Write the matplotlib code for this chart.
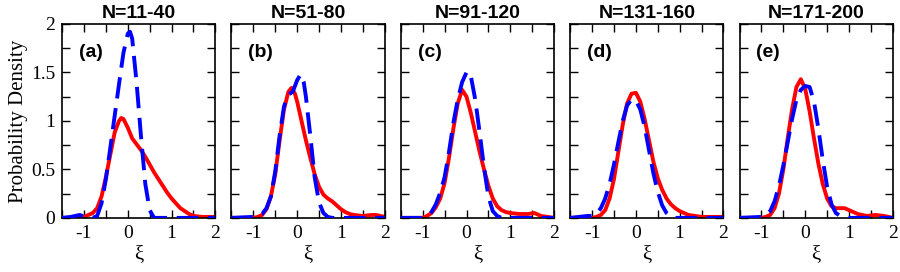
import numpy as np
import matplotlib
matplotlib.use('Agg')
import matplotlib.pyplot as plt
from matplotlib.ticker import MultipleLocator

plt.rcParams['axes.unicode_minus'] = False

titles = ['N=11-40', 'N=51-80', 'N=91-120', 'N=131-160', 'N=171-200']
labels = ['(a)', '(b)', '(c)', '(d)', '(e)']

# red solid curves
red_x = [
    [-1.5,-1.2,-1.0,-0.9,-0.8,-0.7,-0.6,-0.5,-0.4,-0.3,-0.2,-0.15,-0.1,0.0,0.1,0.2,0.3,0.4,0.5,0.6,0.7,0.8,0.9,1.0,1.1,1.2,1.3,1.4,1.5,1.7,2.0],
    [-1.5,-1.0,-0.9,-0.8,-0.7,-0.6,-0.5,-0.4,-0.3,-0.2,-0.13,-0.05,0.0,0.1,0.2,0.3,0.4,0.5,0.6,0.7,0.8,0.9,1.0,1.1,1.2,1.3,1.5,1.7,1.8,2.0],
    [-1.5,-1.0,-0.9,-0.8,-0.7,-0.6,-0.5,-0.4,-0.3,-0.2,-0.1,0.0,0.1,0.2,0.3,0.4,0.5,0.6,0.7,0.8,0.9,1.0,1.2,1.4,1.55,1.7,2.0],
    [-1.5,-1.0,-0.9,-0.8,-0.7,-0.6,-0.5,-0.4,-0.3,-0.2,-0.1,0.0,0.1,0.2,0.3,0.4,0.5,0.6,0.7,0.8,0.9,1.0,1.2,1.5,2.0],
    [-1.5,-1.0,-0.9,-0.8,-0.7,-0.6,-0.5,-0.4,-0.3,-0.2,-0.1,0.0,0.1,0.2,0.3,0.4,0.5,0.6,0.7,0.8,0.9,1.0,1.1,1.2,1.4,1.6,1.8,2.0],
]
red_y = [
    [0,0,0.01,0.03,0.05,0.1,0.22,0.42,0.65,0.88,1.0,1.03,1.02,0.93,0.82,0.76,0.7,0.63,0.55,0.47,0.4,0.33,0.26,0.2,0.15,0.1,0.07,0.04,0.02,0.01,0.01],
    [0,0,0.01,0.03,0.09,0.22,0.45,0.8,1.12,1.3,1.34,1.28,1.2,1.0,0.8,0.62,0.45,0.32,0.24,0.2,0.17,0.13,0.09,0.06,0.04,0.03,0.02,0.03,0.03,0.01],
    [0,0,0.02,0.05,0.11,0.2,0.36,0.62,0.92,1.18,1.32,1.25,1.08,0.88,0.68,0.5,0.33,0.2,0.12,0.08,0.06,0.05,0.04,0.04,0.05,0.02,0.0],
    [0,0,0.01,0.03,0.08,0.2,0.4,0.68,0.96,1.18,1.28,1.29,1.2,1.02,0.8,0.58,0.41,0.29,0.2,0.14,0.1,0.07,0.03,0.01,0.01],
    [0,0,0.01,0.03,0.1,0.25,0.5,0.82,1.12,1.35,1.43,1.33,1.1,0.82,0.56,0.35,0.2,0.12,0.1,0.1,0.1,0.08,0.06,0.04,0.02,0.03,0.02,0.0],
]

# blue dashed curves
blue_x = [
    [-1.5,-1.3,-1.1,-0.9,-0.8,-0.7,-0.6,-0.5,-0.4,-0.3,-0.2,-0.1,0.0,0.05,0.1,0.2,0.3,0.4,0.5,0.6,0.8,1.0,1.5,2.0],
    [-1.5,-1.0,-0.8,-0.7,-0.6,-0.5,-0.4,-0.3,-0.2,-0.1,0.0,0.08,0.15,0.2,0.3,0.4,0.5,0.6,0.7,0.8,1.0,1.5,2.0],
    [-1.5,-1.0,-0.9,-0.8,-0.7,-0.6,-0.5,-0.4,-0.3,-0.2,-0.1,0.0,0.05,0.1,0.2,0.3,0.4,0.5,0.6,0.7,0.8,1.0,2.0],
    [-1.5,-1.1,-1.0,-0.9,-0.8,-0.7,-0.6,-0.5,-0.4,-0.3,-0.2,-0.1,0.0,0.1,0.2,0.3,0.4,0.5,0.6,0.7,0.8,0.9,1.0,2.0],
    [-1.5,-1.0,-0.9,-0.8,-0.7,-0.6,-0.5,-0.4,-0.3,-0.2,-0.1,0.0,0.1,0.2,0.3,0.4,0.5,0.6,0.7,0.8,0.9,1.0,2.0],
]
blue_y = [
    [0,0.01,0.03,0.0,0.0,0.02,0.15,0.4,0.72,1.05,1.38,1.7,1.9,1.92,1.85,1.4,0.85,0.35,0.08,0.0,0.0,0.0,0.0,0.0],
    [0,0.01,0.04,0.1,0.22,0.48,0.85,1.15,1.27,1.3,1.42,1.48,1.4,1.25,0.85,0.42,0.16,0.05,0.01,0,0,0,0],
    [0,0,0.02,0.06,0.14,0.26,0.42,0.68,0.98,1.22,1.4,1.5,1.51,1.46,1.22,0.88,0.52,0.22,0.07,0.02,0,0,0],
    [0,0.02,0.02,0.04,0.1,0.2,0.35,0.55,0.78,1.0,1.16,1.22,1.21,1.12,0.94,0.7,0.46,0.27,0.13,0.05,0.01,0,0,0],
    [0,0.01,0.03,0.07,0.17,0.33,0.54,0.78,1.02,1.22,1.32,1.36,1.35,1.2,0.92,0.6,0.32,0.14,0.05,0.02,0.01,0,0],
]

serif = 'Liberation Serif'
sans = 'Liberation Sans'

fig, axs = plt.subplots(1, 5, figsize=(9, 2.72), dpi=100, sharey=True)
fig.subplots_adjust(left=0.069, right=0.992, top=0.912, bottom=0.199, wspace=0.105)

for i, ax in enumerate(axs):
    ax.plot(red_x[i], red_y[i], color='red', lw=2.8, zorder=2, solid_joinstyle='round')
    ax.plot(blue_x[i], blue_y[i], color='blue', lw=2.8, dashes=(5.5, 2.5), zorder=3)
    ax.set_xlim(-1.5, 2)
    ax.set_ylim(0, 2)
    ax.xaxis.set_major_locator(MultipleLocator(1))
    ax.xaxis.set_minor_locator(MultipleLocator(0.5))
    ax.yaxis.set_major_locator(MultipleLocator(0.5))
    ax.yaxis.set_minor_locator(MultipleLocator(0.25))
    ax.tick_params(which='both', direction='in', top=True, right=True, width=1.0)
    ax.tick_params(which='major', length=6, labelsize=14, pad=5)
    ax.tick_params(which='minor', length=6)
    for t in ax.get_xticklabels() + ax.get_yticklabels():
        t.set_family(serif)
    for s in ax.spines.values():
        s.set_linewidth(1.2)
    ax.set_xlabel('ξ', family=serif, fontsize=15, labelpad=2)
    ax.set_title(titles[i], family=sans, fontweight='bold', fontsize=14, pad=4)
    ax.text(0.11, 0.855, labels[i], transform=ax.transAxes, family=sans,
            fontweight='bold', fontsize=14, va='center')
    if i > 0:
        ax.tick_params(labelleft=False)

axs[0].set_yticks([0, 0.5, 1, 1.5, 2])
axs[0].set_yticklabels(['0', '0.5', '1', '1.5', '2'], family=serif)
axs[0].set_ylabel('Probability Density', family=serif, fontsize=15, labelpad=2)

plt.savefig('out.png', dpi=100)
